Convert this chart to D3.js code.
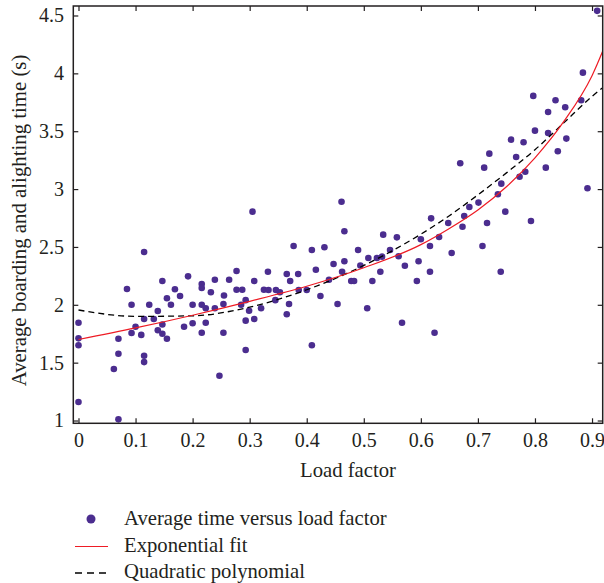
<!DOCTYPE html>
<html lang="en">

<head>
    <meta charset="UTF-8">
    <title>Boarding and alighting time vs load factor</title>
    <script src="https://cdn.jsdelivr.net/npm/d3@7"></script>
    <style>
        body {
            margin: 0;
            background: #fff;
        }

        svg text {
            font-family: "Liberation Serif", "Times New Roman", serif;
            fill: #231f20;
        }

        .axis text {
            font-size: 20px;
        }

        .axis line {
            stroke: #231f20;
            stroke-width: 1.2;
        }

        .axis path {
            display: none;
        }
    </style>
</head>

<body>
    <svg width="604" height="583"></svg>

    <script>
        // observed points: load factor and average time (s)
        const loadFactor = [
            0, 0, 0, 0, 0.070, 0.070, 0.070, 0.062, 0.085, 0.093, 0.093, 0.100, 0.110,
            0.115, 0.115, 0.115, 0.115, 0.124, 0.132, 0.139, 0.139, 0.147, 0.147, 0.147,
            0.155, 0.155, 0.162, 0.169, 0.178, 0.185, 0.192, 0.200, 0.200,
            0.461, 0.305, 0.466, 0.534, 0.558, 0.377, 0.409, 0.431, 0.490, 0.447, 0.466,
            0.508, 0.523, 0.532, 0.546, 0.561, 0.494, 0.277, 0.332, 0.365, 0.385, 0.416,
            0.462, 0.529, 0.239, 0.264, 0.308, 0.371, 0.439, 0.478, 0.483, 0.515, 0.216,
            0.216, 0.232, 0.277, 0.287, 0.325, 0.333, 0.346, 0.353, 0.386, 0.400, 0.255,
            0.293, 0.345, 0.424, 0.216, 0.254, 0.285, 0.369, 0.454, 0.223, 0.239, 0.320,
            0.506, 0.299, 0.223, 0.293, 0.308, 0.365, 0.216, 0.254, 0.293, 0.409, 0.247,
            0.567,
            0.701, 0.685, 0.748, 0.793, 0.676, 0.618, 0.648, 0.716, 0.673, 0.600, 0.632,
            0.616, 0.708, 0.572, 0.654, 0.596, 0.616, 0.740, 0.593, 0.624,
            0.909, 0.884, 0.797, 0.836, 0.881, 0.853, 0.823, 0.800, 0.823, 0.855, 0.758,
            0.780, 0.720, 0.840, 0.669, 0.767, 0.711, 0.819, 0.783, 0.773, 0.741, 0.735,
            0.892
        ];
        const avgTime = [
            1.845, 1.71, 1.65, 1.16, 1.01, 1.707, 1.577, 1.445, 2.137, 2.0, 1.756, 1.81, 1.74,
            2.456, 1.877, 1.56, 1.505, 2.0, 1.877, 1.946, 1.78, 2.206, 1.83, 1.75,
            2.056, 1.707, 2.0, 2.134, 2.076, 1.81, 2.246, 2.0, 1.84,
            2.89, 2.805, 2.635, 2.606, 2.583, 2.508, 2.474, 2.497, 2.474, 2.353, 2.376,
            2.404, 2.404, 2.416, 2.474, 2.42, 2.34, 2.292, 2.286, 2.266, 2.266, 2.303,
            2.286, 2.286, 2.217, 2.217, 2.206, 2.206, 2.217, 2.206, 2.206, 2.206, 2.18,
            2.145, 2.108, 2.13, 2.13, 2.13, 2.128, 2.128, 2.108, 2.128, 2.128, 2.08,
            2.04, 2.04, 2.076, 2.0, 2.007, 2.0, 2.007, 2.007, 1.97, 1.97, 1.97,
            1.97, 1.949, 1.845, 1.863, 1.877, 1.918, 1.759, 1.759, 1.609, 1.65, 1.387,
            1.845,
            2.883, 2.845, 2.805, 2.724, 2.767, 2.747, 2.707, 2.707, 2.675, 2.566, 2.586,
            2.508, 2.508, 2.338, 2.448, 2.376, 2.286, 2.286, 2.206, 1.759,
            4.54, 4.006, 3.805, 3.767, 3.767, 3.707, 3.666, 3.505, 3.485, 3.436, 3.427,
            3.404, 3.306, 3.327, 3.223, 3.277, 3.185, 3.185, 3.150, 3.107, 3.047, 2.955,
            3.007
        ];

        // fitted curves
        const fitX = [0, 0.1, 0.2, 0.3, 0.4, 0.5, 0.6, 0.65, 0.7, 0.75, 0.8, 0.85, 0.9, 0.93];
        const expFit = [1.70, 1.80, 1.91, 2.03, 2.16, 2.32, 2.52, 2.66, 2.82, 3.02, 3.27, 3.58, 3.98, 4.33];
        const quadFit = [1.955, 1.90, 1.905, 1.98, 2.13, 2.34, 2.61, 2.77, 2.95, 3.14, 3.34, 3.57, 3.80, 3.92];

        const xTickValues = [0, 0.1, 0.2, 0.3, 0.4, 0.5, 0.6, 0.7, 0.8, 0.9];
        const yTickValues = [1, 1.5, 2, 2.5, 3, 3.5, 4, 4.5];

        const legendLabels = ["Average time versus load factor", "Exponential fit", "Quadratic polynomial"];

        const dotColor = "#4b2d8f";
        const redColor = "#ee1c25";

        const svg = d3.select("svg");
        const frame = { left: 73.3, right: 602.7, top: 6, bottom: 423.3 };

        const x = d3.scaleLinear()
            .domain([-0.0091, 0.9187])
            .range([frame.left, frame.right]);

        const y = d3.scaleLinear()
            .domain([0.976, 4.582])
            .range([frame.bottom, frame.top]);

        svg.append("clipPath")
            .attr("id", "plot-clip")
            .append("rect")
            .attr("x", frame.left)
            .attr("y", frame.top)
            .attr("width", frame.right - frame.left)
            .attr("height", frame.bottom - frame.top);

        // axes, ticks pointing inward on all four sides
        svg.append("g")
            .attr("class", "axis")
            .attr("transform", `translate(0,${frame.bottom})`)
            .call(d3.axisBottom(x).tickValues(xTickValues).tickSizeInner(-5).tickSizeOuter(0)
                .tickPadding(9.5).tickFormat(d => d === 0 ? "0" : d3.format(".1f")(d)));

        svg.append("g")
            .attr("class", "axis")
            .attr("transform", `translate(0,${frame.top})`)
            .call(d3.axisTop(x).tickValues(xTickValues).tickSizeInner(-5).tickSizeOuter(0).tickFormat(""));

        svg.append("g")
            .attr("class", "axis")
            .attr("transform", `translate(${frame.left},0)`)
            .call(d3.axisLeft(y).tickValues(yTickValues).tickSizeInner(-5).tickSizeOuter(0)
                .tickPadding(9.3).tickFormat(d => d3.format("~g")(d)));

        svg.append("g")
            .attr("class", "axis")
            .attr("transform", `translate(${frame.right},0)`)
            .call(d3.axisRight(y).tickValues(yTickValues).tickSizeInner(-5).tickSizeOuter(0).tickFormat(""));

        // scatter
        const points = loadFactor.map((v, i) => ({ lf: v, t: avgTime[i] }));
        svg.append("g")
            .attr("clip-path", "url(#plot-clip)")
            .selectAll("circle")
            .data(points)
            .join("circle")
            .attr("cx", d => x(d.lf))
            .attr("cy", d => y(d.t))
            .attr("r", 3.3)
            .attr("fill", dotColor);

        // fit lines
        const line = d3.line()
            .x(d => x(d[0]))
            .y(d => y(d[1]))
            .curve(d3.curveMonotoneX);

        const curves = svg.append("g").attr("clip-path", "url(#plot-clip)");

        curves.append("path")
            .datum(fitX.map((v, i) => [v, quadFit[i]]))
            .attr("d", line)
            .attr("fill", "none")
            .attr("stroke", "#000")
            .attr("stroke-width", 1.3)
            .attr("stroke-dasharray", "6,4");

        curves.append("path")
            .datum(fitX.map((v, i) => [v, expFit[i]]))
            .attr("d", line)
            .attr("fill", "none")
            .attr("stroke", redColor)
            .attr("stroke-width", 1.2);

        // frame
        svg.append("rect")
            .attr("x", frame.left)
            .attr("y", frame.top)
            .attr("width", frame.right - frame.left)
            .attr("height", frame.bottom - frame.top)
            .attr("fill", "none")
            .attr("stroke", "#231f20")
            .attr("stroke-width", 1.5);

        // axis titles
        svg.append("text")
            .attr("x", 348)
            .attr("y", 477)
            .attr("text-anchor", "middle")
            .attr("font-size", 20.7)
            .text("Load factor");

        svg.append("text")
            .attr("transform", "translate(26,220.5) rotate(-90)")
            .attr("text-anchor", "middle")
            .attr("font-size", 20.8)
            .text("Average boarding and alighting time (s)");

        // legend
        const legend = svg.append("g");
        const rows = [524.5, 552, 578];

        legend.append("circle")
            .attr("cx", 91)
            .attr("cy", 519)
            .attr("r", 4.5)
            .attr("fill", dotColor);

        legend.append("line")
            .attr("x1", 75).attr("x2", 108)
            .attr("y1", 546.5).attr("y2", 546.5)
            .attr("stroke", redColor)
            .attr("stroke-width", 1.2);

        legend.append("line")
            .attr("x1", 75).attr("x2", 108)
            .attr("y1", 573).attr("y2", 573)
            .attr("stroke", "#000")
            .attr("stroke-width", 1.3)
            .attr("stroke-dasharray", "7,5");

        legend.selectAll("text")
            .data(legendLabels)
            .join("text")
            .attr("x", 124)
            .attr("y", (d, i) => rows[i])
            .attr("font-size", 20.7)
            .text(d => d);
    </script>
</body>

</html>
